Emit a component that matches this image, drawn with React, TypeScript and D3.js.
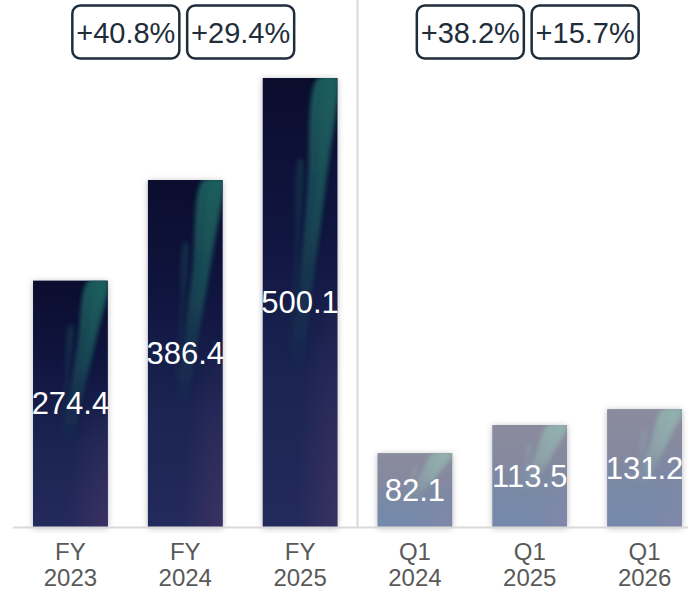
import * as d3 from "d3";

const categories = ["FY 2023", "FY 2024", "FY 2025", "Q1 2024", "Q1 2025", "Q1 2026"];
const values = [274.4, 386.4, 500.1, 82.1, 113.5, 131.2];
const kinds = ["fy", "fy", "fy", "q1", "q1", "q1"];
const growthLabels = ["+40.8%", "+29.4%", "+38.2%", "+15.7%"];
const growthPairs = [[0, 1], [1, 2], [3, 4], [4, 5]];

const width = 688;
const height = 589;
const baseline = 527;
const top = 78;

const palette = {
  fy: { stops: ["#0b0d2e", "#10153f", "#1b2452", "#232a5c"], streak: "#1f6462", glow: "#4a3766" },
  q1: { stops: ["#8b8b9d", "#86899f", "#7889a6", "#7489aa"], streak: "#93b4b0", glow: "#8a86a8" },
};

// streak shapes as fractions of the bar box: [u, v] along left edge then right edge
const streaks = [
  { pts: [[0.74, 0], [0.6, 0.25], [0.47, 0.5], [0.4, 0.66], [0.5, 0.66], [0.64, 0.5], [0.84, 0.25], [1.02, 0.02], [1.02, 0]], opacity: 0.95 },
  { pts: [[0.86, 0], [0.74, 0.22], [0.62, 0.42], [0.68, 0.42], [0.82, 0.22], [0.96, 0]], opacity: 0.5 },
  { pts: [[0.48, 0.18], [0.43, 0.4], [0.36, 0.64], [0.41, 0.64], [0.48, 0.4], [0.53, 0.18]], opacity: 0.35 },
];

const shape = d3.line().curve(d3.curveCatmullRomClosed);

export default function App() {
  const x = d3.scaleBand().domain(categories).range([13, 702]).paddingInner(0.35).paddingOuter(0.175);
  const y = d3.scaleLinear().domain([0, d3.max(values) as number]).range([baseline, top]);
  const bw = x.bandwidth();
  const center = (i: number) => (x(categories[i]) as number) + bw / 2;
  const divider = ((x(categories[2]) as number) + bw + (x(categories[3]) as number)) / 2;
  const font = "'Liberation Sans', Arial, sans-serif";

  return (
    <svg width={width} height={height} style={{ position: "absolute", left: 0, top: 0 }} fontFamily={font}>
      <defs>
        <filter id="shadow" x="-30%" y="-10%" width="160%" height="120%">
          <feDropShadow dx="0" dy="1" stdDeviation="3" floodColor="#000" floodOpacity="0.28" />
        </filter>
        <filter id="soft" x="-50%" y="-50%" width="200%" height="200%">
          <feGaussianBlur stdDeviation="2.2" />
        </filter>
        {(["fy", "q1"] as const).map((k) => (
          <g key={k}>
            <linearGradient id={`base-${k}`} x1="0" y1="0" x2="0" y2="1">
              {palette[k].stops.map((c, i) => (
                <stop key={i} offset={i / (palette[k].stops.length - 1)} stopColor={c} />
              ))}
            </linearGradient>
            <radialGradient id={`glow-${k}`} cx="1" cy="1" r="0.55">
              <stop offset="0" stopColor={palette[k].glow} stopOpacity="0.6" />
              <stop offset="1" stopColor={palette[k].glow} stopOpacity="0" />
            </radialGradient>
            <linearGradient id={`streak-${k}`} x1="0" y1="0" x2="0" y2="1">
              <stop offset="0" stopColor={palette[k].streak} stopOpacity="0.95" />
              <stop offset="0.5" stopColor={palette[k].streak} stopOpacity="0.6" />
              <stop offset="1" stopColor={palette[k].streak} stopOpacity="0" />
            </linearGradient>
          </g>
        ))}
        {categories.map((c, i) => (
          <clipPath key={c} id={`clip-${i}`}>
            <rect x={x(c)} y={y(values[i])} width={bw} height={baseline - y(values[i])} />
          </clipPath>
        ))}
      </defs>

      <line x1={divider} x2={divider} y1={0} y2={baseline} stroke="#d9d9d9" strokeWidth={2} />

      {categories.map((c, i) => {
        const bx = x(c) as number;
        const by = y(values[i]);
        const bh = baseline - by;
        const k = kinds[i];
        return (
          <g key={c}>
            <rect x={bx} y={by} width={bw} height={bh} fill={palette[k].stops[2]} filter="url(#shadow)" />
            <g clipPath={`url(#clip-${i})`}>
              <rect x={bx} y={by} width={bw} height={bh} fill={`url(#base-${k})`} />
              <rect x={bx} y={by} width={bw} height={bh} fill={`url(#glow-${k})`} />
              {streaks.map((s, j) => (
                <path
                  key={j}
                  d={shape(s.pts.map(([u, v]) => [bx + u * bw, by + v * bh] as [number, number])) as string}
                  fill={`url(#streak-${k})`}
                  opacity={s.opacity}
                  filter="url(#soft)"
                />
              ))}
            </g>
            <text x={bx + bw / 2} y={by + bh / 2} textAnchor="middle" dominantBaseline="central" fill="#fff" fontSize={31}>
              {values[i].toFixed(1)}
            </text>
            {c.split(" ").map((part, j) => (
              <text key={j} x={bx + bw / 2} y={551 + j * 26} textAnchor="middle" dominantBaseline="central" fill="#595959" fontSize={24}>
                {part}
              </text>
            ))}
          </g>
        );
      })}

      <line x1={13} x2={width} y1={baseline + 0.5} y2={baseline + 0.5} stroke="#d9d9d9" strokeWidth={2} />

      {growthLabels.map((g, i) => {
        const cx = (center(growthPairs[i][0]) + center(growthPairs[i][1])) / 2 - 2;
        return (
          <g key={g}>
            <rect x={cx - 53.5} y={5.5} width={107} height={53} rx={8} fill="#fff" stroke="#1f2d3b" strokeWidth={2.5} />
            <text x={cx} y={33} textAnchor="middle" dominantBaseline="central" fill="#1f2d3b" fontSize={29}>
              {g}
            </text>
          </g>
        );
      })}
    </svg>
  );
}
